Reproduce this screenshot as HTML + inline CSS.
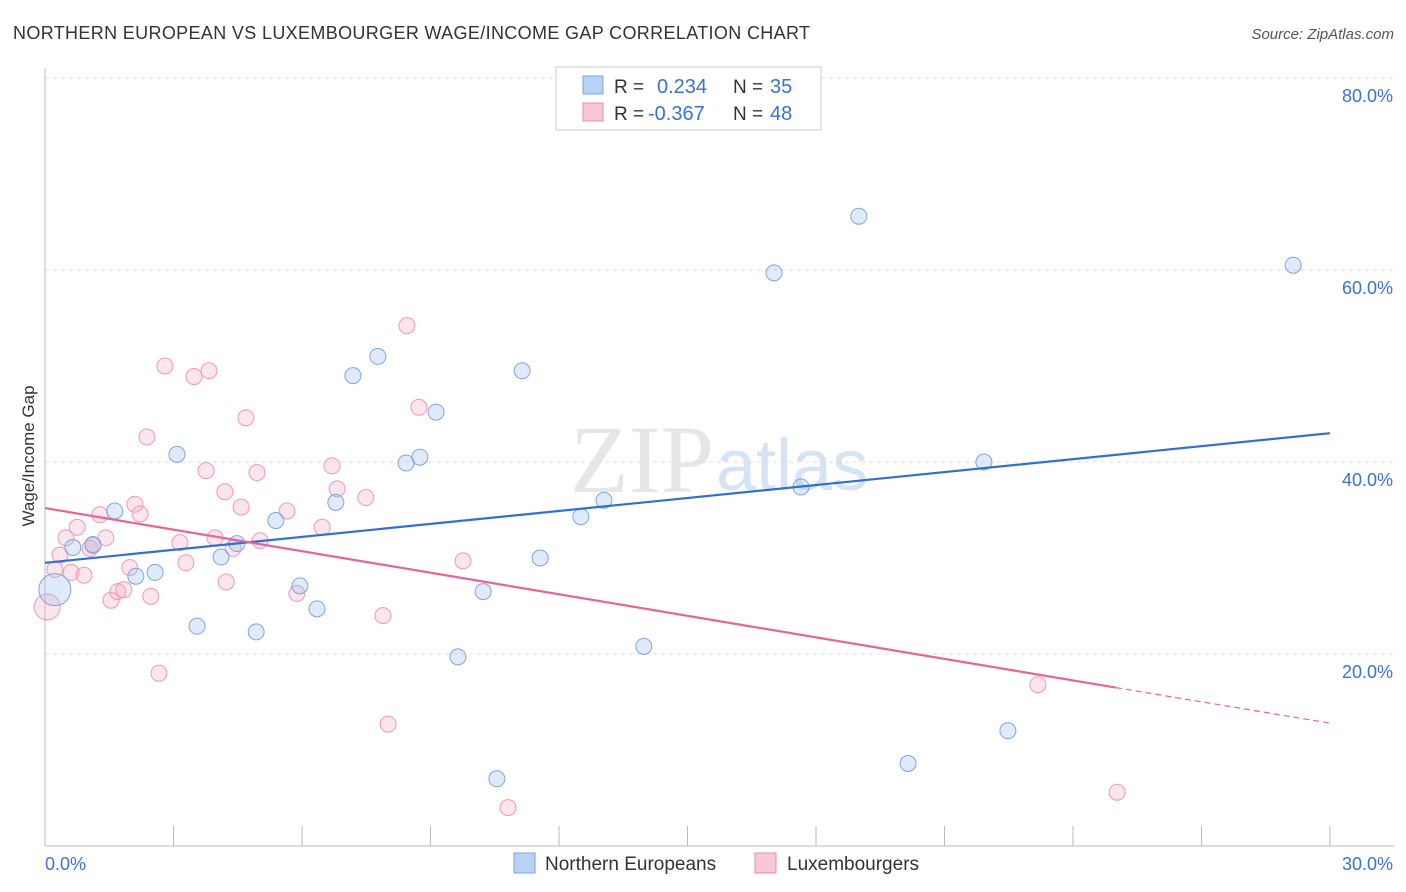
<!DOCTYPE html>
<html><head><meta charset="utf-8"><style>
body{margin:0;background:#fff;font-family:"Liberation Sans",sans-serif;}
svg{display:block}
</style></head><body>
<svg width="1406" height="892" id="chart">
<text x="13" y="39" font-size="18" fill="#333" textLength="797">NORTHERN EUROPEAN VS LUXEMBOURGER WAGE/INCOME GAP CORRELATION CHART</text>
<text x="1394" y="39" font-size="15" fill="#555" text-anchor="end" font-style="italic">Source: ZipAtlas.com</text>
<text x="714" y="492" font-size="96" fill="#e6e6e6" text-anchor="end" font-family="Liberation Serif">ZIP</text>
<text x="716" y="490" font-size="72" fill="#d6e3f5">atlas</text>
<g id="grid"></g><g id="axes"></g><g id="marks"></g>
<text transform="translate(34,456) rotate(-90)" font-size="17" fill="#333" text-anchor="middle">Wage/Income Gap</text>
<g>
<rect x="556" y="67" width="265" height="63" fill="#fff" stroke="#ccc"/>
<rect x="583" y="76" width="20" height="18" fill="#b8d2f5" stroke="#7aa6e0"/>
<rect x="583" y="103" width="20" height="18" fill="#f9c8d8" stroke="#e88aaa"/>
<text x="614" y="93" font-size="19" fill="#333">R = </text><text x="657" y="93" font-size="20" fill="#3a72d4">0.234</text>
<text x="733" y="93" font-size="19" fill="#333">N = </text><text x="770" y="93" font-size="20" fill="#3a72d4">35</text>
<text x="614" y="120" font-size="19" fill="#333">R = </text><text x="648" y="120" font-size="20" fill="#3a72d4">-0.367</text>
<text x="733" y="120" font-size="19" fill="#333">N = </text><text x="770" y="120" font-size="20" fill="#3a72d4">48</text>
</g>
<g>
<rect x="514" y="853" width="21" height="20" fill="#b8d2f5" stroke="#7aa6e0"/>
<text x="545" y="870" font-size="19" fill="#333">Northern Europeans</text>
<rect x="755" y="853" width="21" height="20" fill="#f9c8d8" stroke="#e88aaa"/>
<text x="787" y="870" font-size="19" fill="#333">Luxembourgers</text>
</g>
</svg>
<script>
const blueX=[0.23,0.65,1.12,1.63,2.12,2.57,3.08,3.55,4.11,4.48,4.93,5.39,5.95,6.35,6.79,7.19,7.77,8.43,8.75,9.13,9.64,10.23,10.55,11.14,11.56,12.51,13.05,13.98,17.02,17.65,19.0,20.15,21.92,22.48,29.14];
const blueY=[26.7,31.1,31.4,34.9,28.1,28.5,40.8,22.9,30.1,31.5,22.3,33.9,27.1,24.7,35.8,49.0,51.0,39.9,40.5,45.2,19.7,26.5,7.0,49.5,30.0,34.3,36.0,20.8,59.7,37.4,65.6,8.6,40.0,12.0,60.5];
const pinkX=[0.05,0.23,0.35,0.49,0.61,0.75,0.91,1.05,1.12,1.28,1.42,1.54,1.70,1.84,1.98,2.10,2.22,2.38,2.47,2.66,2.80,3.15,3.29,3.48,3.76,3.83,3.97,4.20,4.23,4.39,4.58,4.69,4.95,5.02,5.65,5.88,6.47,6.70,6.82,7.49,7.89,8.01,8.45,8.73,9.76,10.81,23.18,25.03];
const pinkY=[24.9,28.8,30.3,32.1,28.5,33.2,28.2,31.0,31.3,34.5,32.1,25.6,26.5,26.7,29.0,35.6,34.6,42.6,26.0,18.0,50.0,31.6,29.5,48.9,39.1,49.5,32.1,36.9,27.5,31.0,35.3,44.6,38.9,31.8,34.9,26.3,33.2,39.6,37.2,36.3,24.0,12.7,54.2,45.7,29.7,4.0,16.8,5.6];
const blueTrend=[29.5,43.0];
const pinkTrend=[35.2,16.5,12.8];
const yTicks=[20,40,60,80];
const yTickLabels=["20.0%","40.0%","60.0%","80.0%"];
const xTicks=[0,3,6,9,12,15,18,21,24,27,30];
const X=v=>45+v/30*1285, Y=v=>846-v/20*192;
const NS="http://www.w3.org/2000/svg";
function mk(p,t,a){const e=document.createElementNS(NS,t);for(const k in a)e.setAttribute(k,a[k]);p.appendChild(e);return e;}
const grid=document.getElementById('grid'),axes=document.getElementById('axes'),marks=document.getElementById('marks');
yTicks.forEach((v,i)=>{
 const l=mk(grid,'line',{x1:45,x2:1394,y1:Y(v),y2:Y(v),stroke:'#ddd','stroke-dasharray':'4,4'});
 
 
 const t=mk(axes,'text',{x:1393,y:Y(v)+24,'font-size':18,fill:'#3a72d4','text-anchor':'end'});t.textContent=yTickLabels[i];
 
 
});
const ax=mk(axes,'line',{x1:45,x2:1394,y1:846,y2:846,stroke:'#bbb'});


const ay=mk(axes,'line',{x1:45,x2:45,y1:68,y2:846,stroke:'#bbb'});


xTicks.forEach(v=>{const t=mk(axes,'line',{x1:X(v),x2:X(v),y1:826,y2:846,stroke:'#bbb'});
 
 });
[["0.0%",45,'start'],["30.0%",1393,'end']].forEach(a=>{const t=mk(axes,'text',{x:a[1],y:870,'font-size':18,fill:'#3a72d4','text-anchor':a[2]});t.textContent=a[0];
 
 });
function pts(xs,ys,fill,stroke,name,big){xs.forEach((x,i)=>{const c=mk(marks,'circle',{cx:X(x),cy:Y(ys[i]),r:i===0?big:8,fill:fill,stroke:stroke,'stroke-width':1});
 
 });}
pts(pinkX,pinkY,'rgba(245,170,195,0.3)','#eb9ab6','luxembourger-point',13);
pts(blueX,blueY,'rgba(164,196,240,0.35)','#7fa6dd','northern-european-point',16);
const bl=mk(marks,'line',{x1:X(0),y1:Y(blueTrend[0]),x2:X(30),y2:Y(blueTrend[1]),stroke:'#2f6fd6','stroke-width':2.2});


const pl=mk(marks,'line',{x1:X(0),y1:Y(pinkTrend[0]),x2:X(25),y2:Y(pinkTrend[1]),stroke:'#e8639a','stroke-width':2.2});


const pd=mk(marks,'line',{x1:X(25),y1:Y(pinkTrend[1]),x2:X(30),y2:Y(pinkTrend[2]),stroke:'#e8639a','stroke-width':1.2,'stroke-dasharray':'6,4'});


</script>
</body></html>
